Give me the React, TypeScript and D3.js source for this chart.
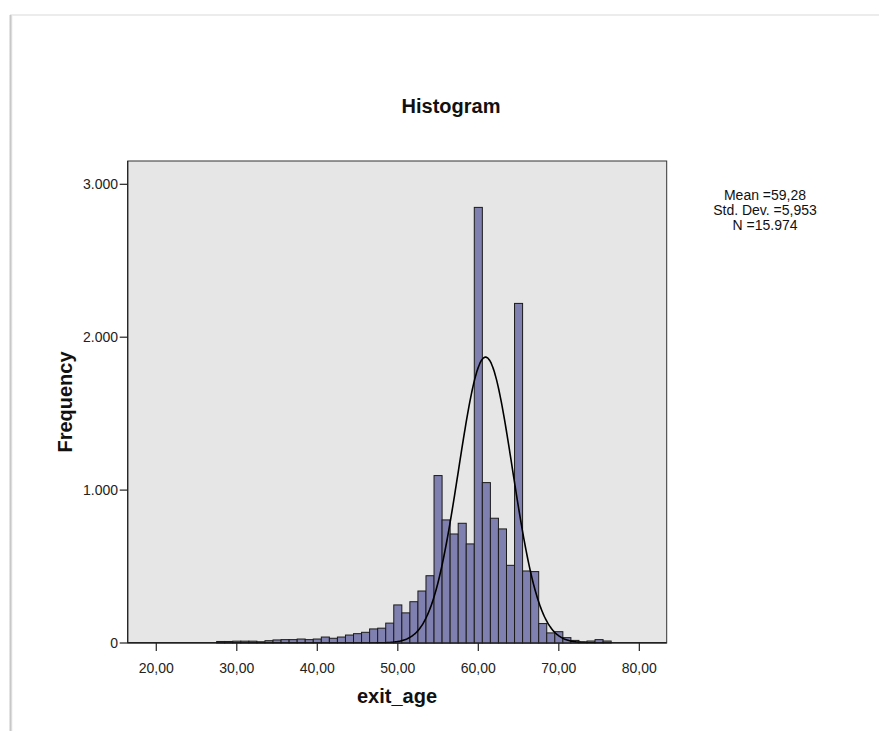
import React from "react";
import * as d3 from "d3";

const ages = [28,29,30,31,32,33,34,35,36,37,38,39,40,41,42,43,44,45,46,47,48,49,50,51,52,53,54,55,56,57,58,59,60,61,62,63,64,65,66,67,68,69,70,71,72,73,74,75,76];
const counts = [10,10,12,12,12,8,15,20,22,22,26,22,26,39,31,39,52,61,70,92,97,130,249,197,270,340,440,1095,805,713,783,648,2849,1049,816,746,508,2221,471,467,127,66,74,35,17,8,13,22,13];
const xTicks = [20,30,40,50,60,70,80];
const xTickLabels = ["20,00","30,00","40,00","50,00","60,00","70,00","80,00"];
const yTicks = [0,1000,2000,3000];
const yTickLabels = ["0","1.000","2.000","3.000"];
const statLines = ["Mean =59,28","Std. Dev. =5,953","N =15.974"];
const curveMean = 60.9;
const curveSd = 3.35;
const curvePeak = 1870;

const FONT = "'Liberation Sans', Arial, Helvetica, sans-serif";

export default function App() {
  const W = 879, H = 731;
  const left = 127.7, right = 666.7, top = 161, bottom = 643;
  const x = d3.scaleLinear().domain([16.45, 83.4]).range([left, right]);
  const y = d3.scaleLinear().domain([0, 3000]).range([bottom, 184.3]);

  const curvePts: [number, number][] = d3.range(16.45, 83.4, 0.1).map((a) => [
    a,
    curvePeak * Math.exp(-0.5 * ((a - curveMean) / curveSd) ** 2),
  ]);
  const line = d3.line<[number, number]>().x((d) => x(d[0])).y((d) => y(d[1])).curve(d3.curveBasis);

  return (
    <svg width={W} height={H} style={{ position: "absolute", left: 0, top: 0 }} xmlns="http://www.w3.org/2000/svg">
      <defs>
        <linearGradient id="leftShadow" x1="0" x2="1" y1="0" y2="0">
          <stop offset="0" stopColor="#ffffff" />
          <stop offset="0.5" stopColor="#c8c8c8" />
          <stop offset="1" stopColor="#f0f0f0" />
        </linearGradient>
        <clipPath id="plotClip">
          <rect x={left} y={top} width={right - left} height={bottom - top} />
        </clipPath>
      </defs>
      <rect x={0} y={0} width={W} height={H} fill="#ffffff" />
      {/* card edges */}
      <rect x={10} y={14} width={W - 10} height={2} fill="#ececec" />
      <rect x={8.5} y={15} width={4} height={H - 15} fill="url(#leftShadow)" />

      {/* title */}
      <text x={451} y={113} textAnchor="middle" fontFamily={FONT} fontWeight="bold" fontSize={20} fill="#111">
        Histogram
      </text>

      {/* plot background */}
      <rect x={left} y={top} width={right - left} height={bottom - top} fill="#e6e6e6" stroke="#333" strokeWidth={1} />

      {/* bars */}
      <g>
        {ages.map((a, i) => (
          <rect
            key={a}
            x={x(a - 0.5)}
            y={y(counts[i])}
            width={x(a + 0.5) - x(a - 0.5)}
            height={y(0) - y(counts[i])}
            fill="#8080b0"
            stroke="#1a1a1a"
            strokeWidth={1}
          />
        ))}
      </g>

      {/* normal curve */}
      <path d={line(curvePts) || ""} fill="none" stroke="#000" strokeWidth={1.6} clipPath="url(#plotClip)" />

      {/* axes lines */}
      <line x1={left} x2={right} y1={bottom} y2={bottom} stroke="#222" strokeWidth={1.2} />
      <line x1={left} x2={left} y1={top} y2={bottom} stroke="#222" strokeWidth={1.2} />

      {/* x ticks */}
      {xTicks.map((t, i) => (
        <g key={t}>
          <line x1={x(t)} x2={x(t)} y1={bottom} y2={bottom + 8} stroke="#222" strokeWidth={1.2} />
          <text x={x(t)} y={673} textAnchor="middle" fontFamily={FONT} fontSize={14} fill="#222">
            {xTickLabels[i]}
          </text>
        </g>
      ))}

      {/* y ticks */}
      {yTicks.map((t, i) => (
        <g key={t}>
          <line x1={left - 8} x2={left} y1={y(t)} y2={y(t)} stroke="#222" strokeWidth={1.2} />
          <text x={118} y={y(t) + 5} textAnchor="end" fontFamily={FONT} fontSize={14} fill="#222">
            {yTickLabels[i]}
          </text>
        </g>
      ))}

      {/* axis titles */}
      <text x={397} y={703} textAnchor="middle" fontFamily={FONT} fontWeight="bold" fontSize={20} fill="#111">
        exit_age
      </text>
      <text
        transform={`translate(72, ${(top + bottom) / 2}) rotate(-90)`}
        textAnchor="middle"
        fontFamily={FONT}
        fontWeight="bold"
        fontSize={20}
        fill="#111"
      >
        Frequency
      </text>

      {/* stats */}
      {statLines.map((s, i) => (
        <text key={s} x={765} y={200 + i * 15} textAnchor="middle" fontFamily={FONT} fontSize={14} fill="#111">
          {s}
        </text>
      ))}
    </svg>
  );
}
